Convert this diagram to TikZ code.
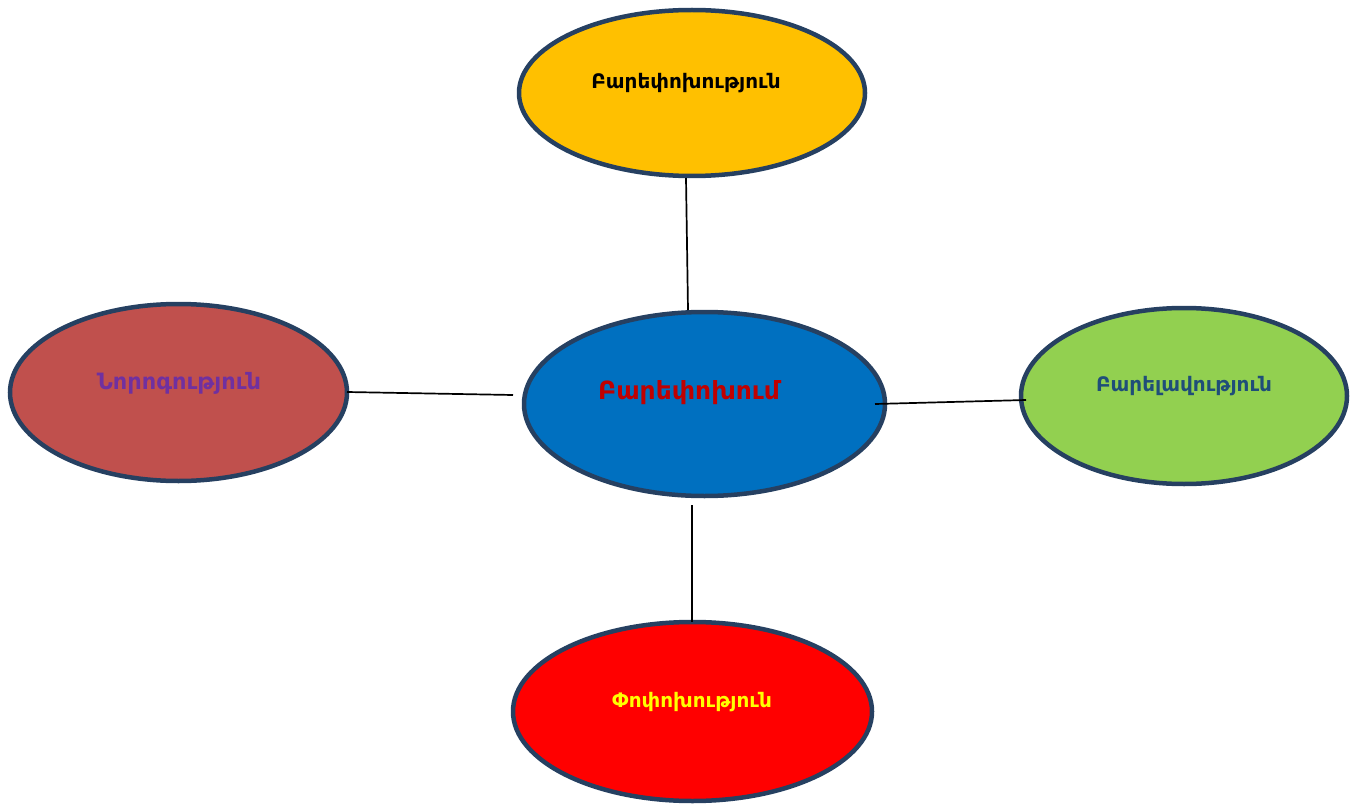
\documentclass[tikz,border=0pt]{standalone}
\usepackage{fontspec}
\setmainfont{DejaVu Sans}
\usetikzlibrary{shapes.geometric}
\definecolor{bordc}{RGB}{38,64,97}
\definecolor{cyel}{RGB}{255,192,0}
\definecolor{cbrick}{RGB}{192,80,77}
\definecolor{cblue}{RGB}{0,112,192}
\definecolor{cgreen}{RGB}{146,208,80}
\definecolor{cred}{RGB}{255,0,0}
\definecolor{tpurple}{RGB}{112,48,160}
\definecolor{tdred}{RGB}{192,0,0}
\definecolor{tslate}{RGB}{31,78,121}
\definecolor{tyellow}{RGB}{255,255,0}
\tikzset{
  blob/.style={ellipse, draw=bordc, line width=4.5pt, inner sep=0pt},
  lbl/.style={font=\bfseries\fontsize{20}{24}\selectfont, inner sep=0pt},
  link/.style={draw=black, line width=1.7pt}
}
\begin{document}
\begin{tikzpicture}[x=1pt,y=-1pt]
\useasboundingbox (0,0) rectangle (1357,805);
\node[blob, fill=cyel, minimum width=346pt, minimum height=166pt] (top) at (692,93) {};
\node[blob, fill=cbrick, minimum width=337pt, minimum height=177pt] (left) at (178.5,392.5) {};
\node[blob, fill=cblue, minimum width=361pt, minimum height=184pt] (mid) at (704.5,404) {};
\node[blob, fill=cgreen, minimum width=326pt, minimum height=176pt] (right) at (1184,396) {};
\node[blob, fill=cred, minimum width=359pt, minimum height=179pt] (bot) at (692.5,711.5) {};

\node[lbl, text=black] (ttop) at (686,83) {Բարեփոխություն};
\node[lbl, text=tpurple, font=\bfseries\fontsize{22.5}{27}\selectfont] (tleft) at (179,383) {Նորոգություն};
\node[lbl, text=tdred, font=\bfseries\fontsize{25}{30}\selectfont] (tmid) at (689,393) {Բարեփոխում};
\node[lbl, text=tslate] (tright) at (1184,386) {Բարելավություն};
\node[lbl, text=tyellow] (tbot) at (692,702) {Փոփոխություն};

\coordinate (a1) at (686,178);
\coordinate (a2) at (688,310);
\coordinate (b1) at (347,392);
\coordinate (b2) at (513,395);
\coordinate (c1) at (875,404);
\coordinate (c2) at (1026,400);
\coordinate (d1) at (692,505);
\coordinate (d2) at (692,622);
\draw[link] (a1) -- (a2);
\draw[link] (b1) -- (b2);
\draw[link] (c1) -- (c2);
\draw[link] (d1) -- (d2);
\end{tikzpicture}
\end{document}
